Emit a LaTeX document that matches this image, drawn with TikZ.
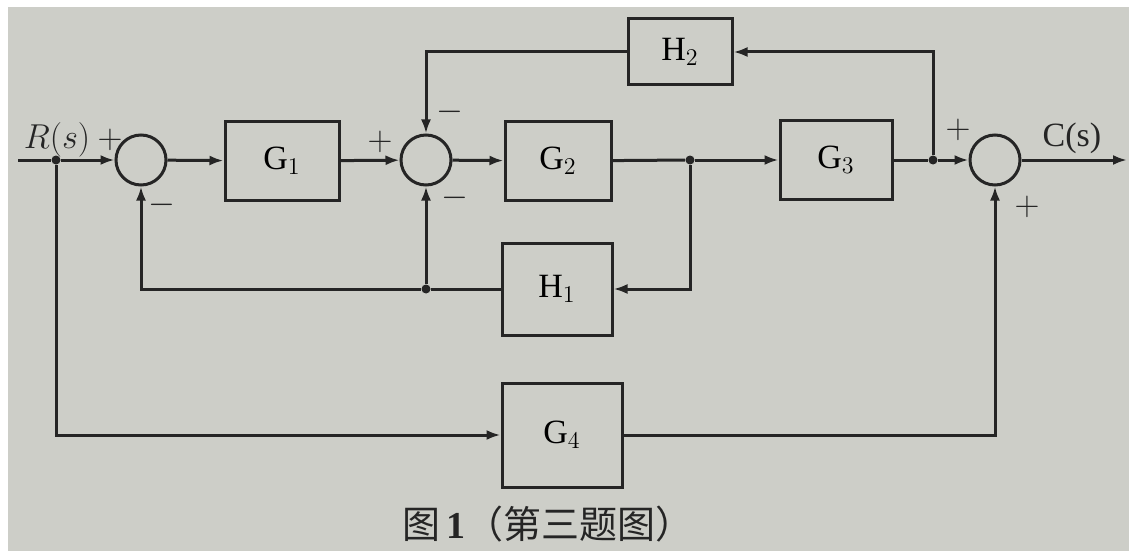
\documentclass[tikz,border=0pt]{standalone}
\usepackage{fontspec}
\setmainfont{Liberation Serif}
\newfontfamily\cjk{Noto Sans CJK SC}
\usetikzlibrary{arrows.meta,positioning}
\definecolor{paper}{HTML}{CDCEC8}
\definecolor{ink}{HTML}{252525}

\tikzset{
  block/.style={draw=ink, line width=1.5pt, inner sep=0pt, minimum width=56pt, minimum height=39pt,
    font=\fontsize{17}{19}\selectfont},
  sumnode/.style={draw=ink, line width=1.5pt, circle, inner sep=0pt, minimum size=25pt},
  sig/.style={draw=ink, line width=1.5pt, -{Latex[length=7pt,width=5pt]}},
  wire/.style={draw=ink, line width=1.5pt},
  dot/.style={circle, fill=ink, inner sep=0pt, minimum size=4.5pt},
  sign/.style={font=\fontsize{16}{18}\selectfont, text=ink, inner sep=0pt}
}

\begin{document}
\begin{tikzpicture}[x=0.5pt, y=-0.5pt]
  % paper
  \useasboundingbox (0,0) rectangle (1129,551);
  \fill[white] (0,0) rectangle (1129,551);
  \fill[paper] (8,7) rectangle (1129,551);

  % forward path
  \coordinate (in) at (18,160);
  \node[dot] (rdot) at (56,160) {};
  \node[sumnode] (s1) at (141,160) {};
  \node[block, minimum width=57pt] (g1) at (282,161) {G$_1$};
  \node[sumnode] (s2) at (426,160) {};
  \node[block, minimum width=53pt] (g2) at (558,161) {G$_2$};
  \node[dot] (d1) at (690,160) {};
  \node[block, minimum width=56pt] (g3) at (836,160) {G$_3$};
  \node[dot] (d2) at (933,160) {};
  \node[sumnode] (s3) at (995,160) {};
  \coordinate (out) at (1127,160);

  % feedback and feedforward blocks
  \node[block, minimum width=52pt, minimum height=33pt] (h2) at (680,52) {H$_2$};
  \node[block, minimum width=55pt, minimum height=46pt] (h1) at (557,289) {H$_1$};
  \node[block, minimum width=60pt, minimum height=52pt] (g4) at (562,435) {G$_4$};
  \node[dot] (d3) at (s2 |- h1) {};

  % labels
  \node[font=\fontsize{17}{19}\selectfont, text=ink] (rin) at (57,140) {$R(s)$};
  \node[font=\fontsize{17}{19}\selectfont, text=ink] (cout) at (1072,138) {C(s)};
  \node[sign] (p1) at (110,140) {$+$};
  \node[sign] (m1) at (162,205) {$-$};
  \node[sign] (p2) at (380,142) {$+$};
  \node[sign] (m2) at (450,112) {$-$};
  \node[sign] (m3) at (455,198) {$-$};
  \node[sign] (p3) at (958,130) {$+$};
  \node[sign] (p4) at (1027,207) {$+$};

  % connections
  \draw[wire] (in) -- (rdot);
  \draw[sig] (rdot) -- (s1);
  \draw[sig] (s1) -- (g1);
  \draw[sig] (g1) -- (s2);
  \draw[sig] (s2) -- (g2);
  \draw[wire] (g2) -- (d1);
  \draw[sig] (d1) -- (g3);
  \draw[wire] (g3) -- (d2);
  \draw[sig] (d2) -- (s3);
  \draw[sig] (s3) -- (out);
  \draw[sig] (d2) |- (h2);
  \draw[sig] (h2) -| (s2);
  \draw[sig] (d1) |- (h1);
  \draw[wire] (h1) -- (d3);
  \draw[sig] (d3) -- (s2);
  \draw[sig] (d3) -| (s1);
  \draw[sig] (rdot) |- (g4);
  \draw[sig] (g4) -| (s3);

  % caption
  \node[text=ink, font=\fontsize{19}{21}\selectfont] (cap) at (548,524) {{\cjk 图}\,\textbf{1}{\cjk （第三题图）}};
\end{tikzpicture}
\end{document}
